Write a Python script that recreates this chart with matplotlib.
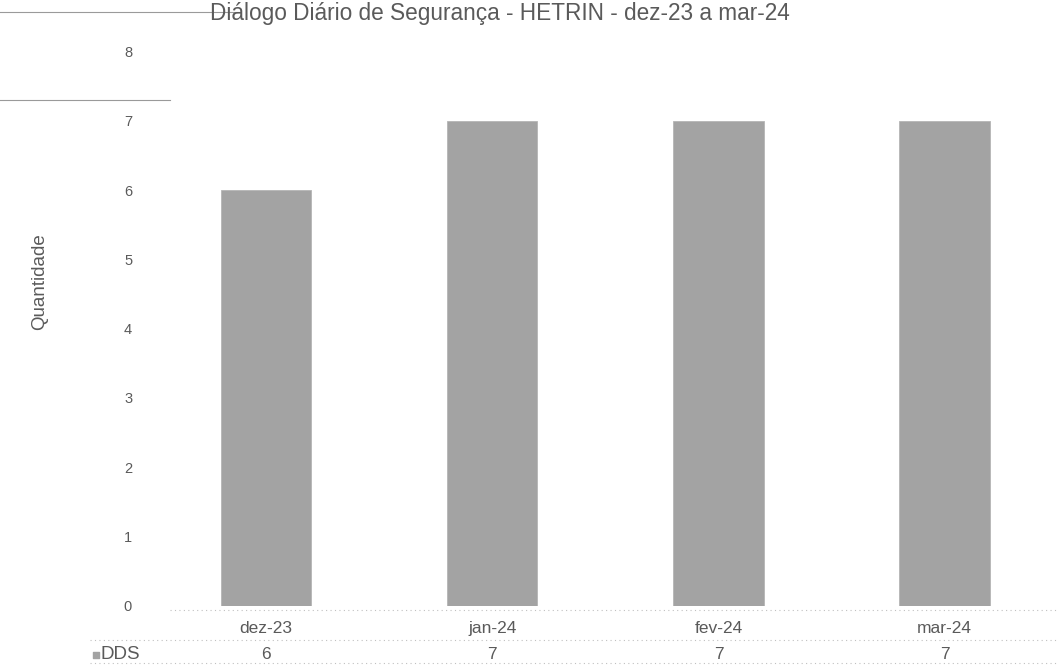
import matplotlib.pyplot as plt
from matplotlib.lines import Line2D

plt.rcParams["font.family"] = ["Liberation Sans", "DejaVu Sans"]

# data
months = ["dez-23", "jan-24", "fev-24", "mar-24"]
dds = [6, 7, 7, 7]
series_name = "DDS"
title = "Diálogo Diário de Segurança - HETRIN - dez-23 a mar-24"

text_color = "#5a5a5a"
bar_color = "#a3a3a3"

fig = plt.figure(figsize=(10.62, 6.68), dpi=100)
ax = fig.add_axes([0.144, 0.093, 0.852, 0.83])

x = range(len(months))
ax.bar(x, dds, width=0.4, color=bar_color, edgecolor="#b5b5b5", linewidth=0.6)

ax.set_xlim(-0.5, len(months) - 0.5)
ax.set_ylim(0, 8)
ax.set_yticks(range(0, 9))
ax.tick_params(axis="y", length=0, pad=15, labelsize=10.5, labelcolor=text_color)
ax.set_xticks(list(x))
ax.set_xticklabels(months)
ax.tick_params(axis="x", length=0, pad=11, labelsize=12.5, labelcolor=text_color)
for s in ax.spines.values():
    s.set_visible(False)

ax.set_ylabel("Quantidade", fontsize=13.5, color=text_color)
ax.yaxis.set_label_coords(-0.116, 0.585)

# data table row under the category labels
for i, v in enumerate(dds):
    ax.text(i, -0.088, str(v), transform=ax.get_xaxis_transform(),
            ha="center", va="center", fontsize=12.5, color=text_color)
ax.text(-0.73, -0.088, series_name, transform=ax.get_xaxis_transform(),
        ha="left", va="center", fontsize=13.5, color=text_color)
ax.scatter([-0.752], [-0.088], transform=ax.get_xaxis_transform(), marker="s",
           s=20, color=bar_color, clip_on=False)

# faint dotted table borders
dotted = dict(color="#c0c0c0", linestyle=(0, (1, 3)), linewidth=0.8)
fig.add_artist(Line2D([0.16, 0.995], [0.087, 0.087], **dotted))
fig.add_artist(Line2D([0.085, 0.995], [0.042, 0.042], **dotted))
fig.add_artist(Line2D([0.085, 0.995], [0.007, 0.007], **dotted))

# stray lines visible in the scan
fig.add_artist(Line2D([0.0, 0.225], [0.982, 0.982], color="#9a9a9a", linewidth=0.8))
fig.add_artist(Line2D([0.0, 0.16], [0.85, 0.85], color="#9a9a9a", linewidth=0.8))

fig.text(0.471, 0.98, title, ha="center", va="center", fontsize=16.3,
         color=text_color)

fig.savefig("out.png", dpi=100, facecolor="white")
